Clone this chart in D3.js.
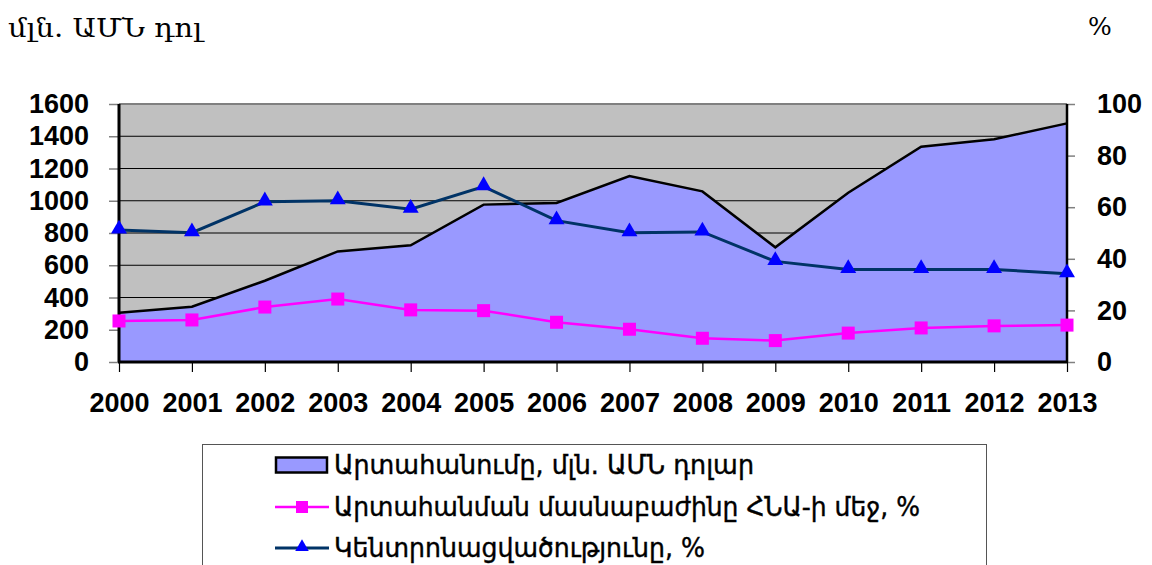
<!DOCTYPE html>
<html>
<head>
<meta charset="utf-8">
<script src="https://cdn.jsdelivr.net/npm/d3@7"></script>
<style>
  body { margin: 0; background: #fff; }
  svg { display: block; }
</style>
</head>
<body>
<div id="chart"></div>
<script>
// data
const years = ["2000", "2001", "2002", "2003", "2004", "2005", "2006", "2007", "2008", "2009", "2010", "2011", "2012", "2013"];
const exportsMln = [305, 343, 504, 686, 724, 976, 986, 1153, 1058, 711, 1050, 1335, 1381, 1480];
const shareGdp = [15.9, 16.3, 21.3, 24.4, 20.2, 19.9, 15.4, 12.7, 9.2, 8.3, 11.2, 13.2, 14.0, 14.3];
const concentration = [51.2, 50.1, 62.1, 62.5, 59.2, 68.0, 54.8, 50.1, 50.4, 39.0, 35.9, 35.9, 35.9, 34.2];
const leftTicks = [0, 200, 400, 600, 800, 1000, 1200, 1400, 1600];
const rightTicks = [0, 20, 40, 60, 80, 100];
const seriesNames = [
    "Արտահանումը, մլն. ԱՄՆ դոլար",
    "Արտահանման մասնաբաժինը ՀՆԱ-ի մեջ, %",
    "Կենտրոնացվածությունը, %"
];
const leftUnit = "մլն. ԱՄՆ դոլ";
const rightUnit = "%";

const W = 1152, H = 565;
const margin = { top: 104, right: 85, bottom: 203, left: 119 },
    width = W - margin.left - margin.right,
    height = H - margin.top - margin.bottom;

const svg = d3.select("#chart")
    .append("svg")
    .attr("width", W)
    .attr("height", H)
    .style("font-family", "Lato, 'Open Sans', sans-serif");

const g = svg.append("g")
    .attr("transform", `translate(${margin.left},${margin.top})`);

const x = d3.scalePoint().domain(years).range([0, width]);
const yL = d3.scaleLinear().domain([0, 1600]).range([height, 0]);
const yR = d3.scaleLinear().domain([0, 100]).range([height, 0]);

// plot background
g.append("rect")
    .attr("width", width).attr("height", height)
    .attr("fill", "#c0c0c0");

// gridlines
g.append("g")
    .selectAll("line")
    .data(leftTicks.filter(d => d > 0 && d < 1600))
    .join("line")
    .attr("x1", 0).attr("x2", width)
    .attr("y1", d => yL(d)).attr("y2", d => yL(d))
    .attr("stroke", "#000").attr("stroke-width", 1);

g.append("line")
    .attr("x1", 0).attr("x2", width)
    .attr("y1", 0).attr("y2", 0)
    .attr("stroke", "#808080").attr("stroke-width", 2);

// exports area
const area = d3.area()
    .x((d, i) => x(years[i]))
    .y0(height)
    .y1(d => yL(d));
g.append("path")
    .datum(exportsMln)
    .attr("d", area)
    .attr("fill", "#9999ff");
g.append("path")
    .datum(exportsMln)
    .attr("d", d3.line().x((d, i) => x(years[i])).y(d => yL(d)))
    .attr("fill", "none")
    .attr("stroke", "#000")
    .attr("stroke-width", 2.5);

// axes
const tickFont = sel => sel.selectAll("text")
    .attr("fill", "#000")
    .style("font-size", "27px")
    .style("font-weight", "bold");

const axL = g.append("g")
    .call(d3.axisLeft(yL).tickValues(leftTicks).tickSize(10).tickPadding(20).tickFormat(d3.format("d")));
axL.select(".domain").remove();
axL.selectAll("line").attr("stroke", "#808080").attr("stroke-width", 1.5);
tickFont(axL);

const axR = g.append("g")
    .attr("transform", `translate(${width},0)`)
    .call(d3.axisRight(yR).tickValues(rightTicks).tickSize(8).tickPadding(22));
axR.select(".domain").remove();
axR.selectAll("line").attr("stroke", "#808080").attr("stroke-width", 1.5);
tickFont(axR);

const axB = g.append("g")
    .attr("transform", `translate(0,${height})`)
    .call(d3.axisBottom(x).tickSize(10).tickPadding(21));
axB.select(".domain").remove();
axB.selectAll("line").attr("stroke", "#000").attr("stroke-width", 1.2);
tickFont(axB);

// axis lines
g.append("line").attr("x1", 0).attr("x2", 0).attr("y1", 0).attr("y2", height)
    .attr("stroke", "#000").attr("stroke-width", 3);
g.append("line").attr("x1", width).attr("x2", width).attr("y1", 0).attr("y2", height)
    .attr("stroke", "#000").attr("stroke-width", 2.5);
g.append("line").attr("x1", -1).attr("x2", width + 1).attr("y1", height).attr("y2", height)
    .attr("stroke", "#000").attr("stroke-width", 3);

// share of GDP line (pink, squares)
const lineR = d3.line().x((d, i) => x(years[i])).y(d => yR(d));
g.append("path")
    .datum(shareGdp)
    .attr("d", lineR)
    .attr("fill", "none")
    .attr("stroke", "#ff00ff")
    .attr("stroke-width", 2.5);
g.append("g")
    .selectAll("rect")
    .data(shareGdp)
    .join("rect")
    .attr("x", (d, i) => x(years[i]) - 6.5)
    .attr("y", d => yR(d) - 6.5)
    .attr("width", 13).attr("height", 13)
    .attr("fill", "#ff00ff");

// concentration line (navy, triangles)
g.append("path")
    .datum(concentration)
    .attr("d", lineR)
    .attr("fill", "none")
    .attr("stroke", "#003366")
    .attr("stroke-width", 3);
const tri = d3.symbol().type(d3.symbolTriangle).size(110);
g.append("g")
    .selectAll("path")
    .data(concentration)
    .join("path")
    .attr("transform", (d, i) => `translate(${x(years[i])},${yR(d) - 1})`)
    .attr("d", tri)
    .attr("fill", "#0000ff");

// unit labels
svg.append("text")
    .attr("x", 8).attr("y", 37)
    .attr("textLength", 194).attr("lengthAdjust", "spacingAndGlyphs")
    .style("font-family", "'DejaVu Serif', serif")
    .style("font-size", "26px")
    .text(leftUnit);
svg.append("text")
    .attr("x", 1088).attr("y", 35)
    .style("font-family", "'DejaVu Serif', serif")
    .style("font-size", "25px")
    .text(rightUnit);

// legend
const legend = svg.append("g");
legend.append("rect")
    .attr("x", 202.5).attr("y", 444.5)
    .attr("width", 784).attr("height", 140)
    .attr("fill", "#fff")
    .attr("stroke", "#555").attr("stroke-width", 1);

const rowY = [465, 507, 548];
const textW = [420, 586, 371];

legend.append("rect")
    .attr("x", 276).attr("y", rowY[0] - 7.5)
    .attr("width", 51).attr("height", 15)
    .attr("fill", "#9999ff")
    .attr("stroke", "#000").attr("stroke-width", 2.5);

legend.append("line")
    .attr("x1", 275).attr("x2", 329).attr("y1", rowY[1]).attr("y2", rowY[1])
    .attr("stroke", "#ff00ff").attr("stroke-width", 2.5);
legend.append("rect")
    .attr("x", 296).attr("y", rowY[1] - 6)
    .attr("width", 12).attr("height", 12)
    .attr("fill", "#ff00ff");

legend.append("line")
    .attr("x1", 275).attr("x2", 329).attr("y1", rowY[2]).attr("y2", rowY[2])
    .attr("stroke", "#003366").attr("stroke-width", 3);
legend.append("path")
    .attr("transform", `translate(302,${rowY[2] - 1})`)
    .attr("d", d3.symbol().type(d3.symbolTriangle).size(80))
    .attr("fill", "#0000ff");

legend.selectAll("text.lbl")
    .data(seriesNames)
    .join("text")
    .attr("class", "lbl")
    .attr("x", 334)
    .attr("y", (d, i) => rowY[i] + 9)
    .attr("textLength", (d, i) => textW[i])
    .attr("lengthAdjust", "spacingAndGlyphs")
    .style("font-family", "'DejaVu Sans', sans-serif")
    .style("font-size", "26px")
    .style("stroke", "#000")
    .style("stroke-width", 0.4)
    .text(d => d);
</script>
</body>
</html>
